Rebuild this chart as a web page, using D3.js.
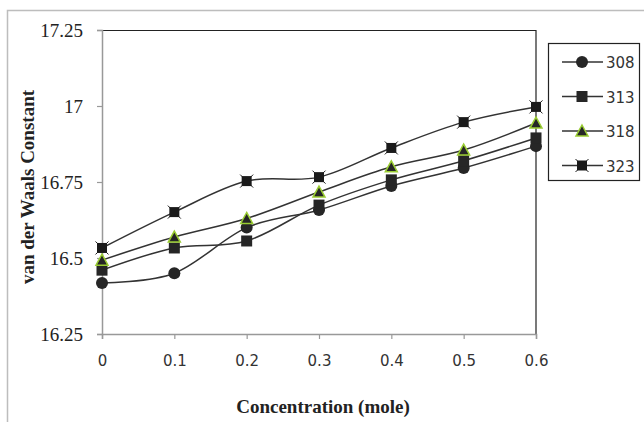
<!DOCTYPE html>
<html>
<head>
<meta charset="utf-8">
<script src="https://cdn.jsdelivr.net/npm/d3@7"></script>
<style>
  body { margin: 0; background: #fff; }
</style>
</head>
<body>
<div class="canvas"></div>
<script>
// chart values
const concentration = [0, 0.1, 0.2, 0.3, 0.4, 0.5, 0.6];
const temps = ['308', '313', '318', '323'];
const vdw308 = [16.418, 16.45, 16.60, 16.658, 16.737, 16.796, 16.868];
const vdw313 = [16.46, 16.533, 16.556, 16.674, 16.757, 16.82, 16.895];
const vdw318 = [16.493, 16.569, 16.63, 16.717, 16.80, 16.855, 16.944];
const vdw323 = [16.533, 16.651, 16.753, 16.766, 16.862, 16.947, 16.997];
const yTicks = [16.25, 16.5, 16.75, 17, 17.25];
const xTicks = [0, 0.1, 0.2, 0.3, 0.4, 0.5, 0.6];

const seriesList = [vdw308, vdw313, vdw318, vdw323];
const markers = ['circle', 'square', 'triangle', 'xsquare'];

const svg = d3.select('.canvas')
  .append('svg')
  .attr('width', 644)
  .attr('height', 422);

// outer chart frame (clipped by the window on right and bottom)
svg.append('rect')
  .attr('x', 7.5).attr('y', 10.5)
  .attr('width', 700).attr('height', 500)
  .attr('fill', 'none')
  .attr('stroke', '#bdbdbd')
  .attr('stroke-width', 1.5);

const margin = { top: 30, left: 102 };
const graphWidth = 536 - 102;
const graphHeight = 334 - 30;

const graph = svg.append('g')
  .attr('transform', `translate(${margin.left}, ${margin.top})`);

const x = d3.scaleLinear().domain([0, 0.6]).range([0, graphWidth]);
const y = d3.scaleLinear().domain([16.25, 17.25]).range([graphHeight, 0]);

// top and right frame of plot area
graph.append('path')
  .attr('d', `M0,0.5H${graphWidth}V${graphHeight}`)
  .attr('fill', 'none')
  .attr('stroke', '#222')
  .attr('stroke-width', 1.2);

// axes
const xAxis = d3.axisBottom(x).tickValues(xTicks).tickSize(5).tickFormat(d3.format('~g'));
const yAxis = d3.axisLeft(y).tickValues(yTicks).tickSize(5).tickFormat(d3.format('~g'));

const xAxisGroup = graph.append('g')
  .attr('transform', `translate(0, ${graphHeight})`)
  .call(xAxis);
const yAxisGroup = graph.append('g').call(yAxis);

[xAxisGroup, yAxisGroup].forEach(g => {
  g.select('.domain').attr('stroke', '#999').attr('stroke-width', 1.5);
  g.selectAll('.tick line').attr('stroke', '#999').attr('stroke-width', 1.2);
});
xAxisGroup.selectAll('.tick text')
  .attr('font-family', 'DejaVu Sans')
  .attr('font-size', 15)
  .attr('fill', '#333')
  .attr('y', 21)
  .attr('dy', '0.71em');
yAxisGroup.selectAll('.tick text')
  .attr('font-family', 'Liberation Serif')
  .attr('font-size', 19)
  .attr('fill', '#222')
  .attr('x', -19);

// axis titles
svg.append('text')
  .attr('x', 323).attr('y', 413)
  .attr('text-anchor', 'middle')
  .attr('font-family', 'Liberation Serif')
  .attr('font-weight', 'bold')
  .attr('font-size', 19)
  .attr('fill', '#222')
  .text('Concentration (mole)');

svg.append('text')
  .attr('transform', 'translate(34, 187) rotate(-90)')
  .attr('text-anchor', 'middle')
  .attr('font-family', 'Liberation Serif')
  .attr('font-weight', 'bold')
  .attr('font-size', 19)
  .attr('fill', '#222')
  .text('van der Waals Constant');

// lines
const line = d3.line()
  .x((d, i) => x(concentration[i]))
  .y(d => y(d))
  .curve(d3.curveCatmullRom.alpha(0));

graph.selectAll('.series')
  .data(seriesList)
  .enter()
  .append('path')
  .attr('class', 'series')
  .attr('d', line)
  .attr('fill', 'none')
  .attr('stroke', '#333')
  .attr('stroke-width', 1.5);

function drawMarker(g, type, cx, cy) {
  if (type === 'circle') {
    g.append('circle').attr('cx', cx).attr('cy', cy).attr('r', 6).attr('fill', '#262626');
  } else if (type === 'square') {
    g.append('rect').attr('x', cx - 5.5).attr('y', cy - 5.5).attr('width', 11).attr('height', 11).attr('fill', '#262626');
  } else if (type === 'triangle') {
    g.append('path')
      .attr('d', `M${cx},${cy - 6}L${cx + 6},${cy + 5}L${cx - 6},${cy + 5}Z`)
      .attr('fill', '#262626')
      .attr('stroke', '#9acd32')
      .attr('stroke-width', 1.5);
  } else {
    g.append('rect').attr('x', cx - 5).attr('y', cy - 5).attr('width', 10).attr('height', 10).attr('fill', '#1a1a1a');
    g.append('path')
      .attr('d', `M${cx - 6.5},${cy - 6.5}L${cx + 6.5},${cy + 6.5}M${cx + 6.5},${cy - 6.5}L${cx - 6.5},${cy + 6.5}`)
      .attr('stroke', '#1a1a1a').attr('stroke-width', 1);
  }
}

seriesList.forEach((vals, s) => {
  const g = graph.append('g');
  vals.forEach((v, i) => drawMarker(g, markers[s], x(concentration[i]), y(v)));
});

// legend
const legend = svg.append('g');
legend.append('rect')
  .attr('x', 548.5).attr('y', 43.5)
  .attr('width', 91).attr('height', 137)
  .attr('fill', '#fff')
  .attr('stroke', '#222')
  .attr('stroke-width', 1.2);

temps.forEach((t, i) => {
  const ly = 62 + i * 34.5;
  legend.append('line')
    .attr('x1', 562).attr('x2', 603)
    .attr('y1', ly).attr('y2', ly)
    .attr('stroke', '#333').attr('stroke-width', 1.5);
  drawMarker(legend, markers[i], 582, ly);
  legend.append('text')
    .attr('x', 606).attr('y', ly + 6)
    .attr('font-family', 'DejaVu Sans')
    .attr('font-size', 15)
    .attr('fill', '#333')
    .text(t);
});
</script>
</body>
</html>
